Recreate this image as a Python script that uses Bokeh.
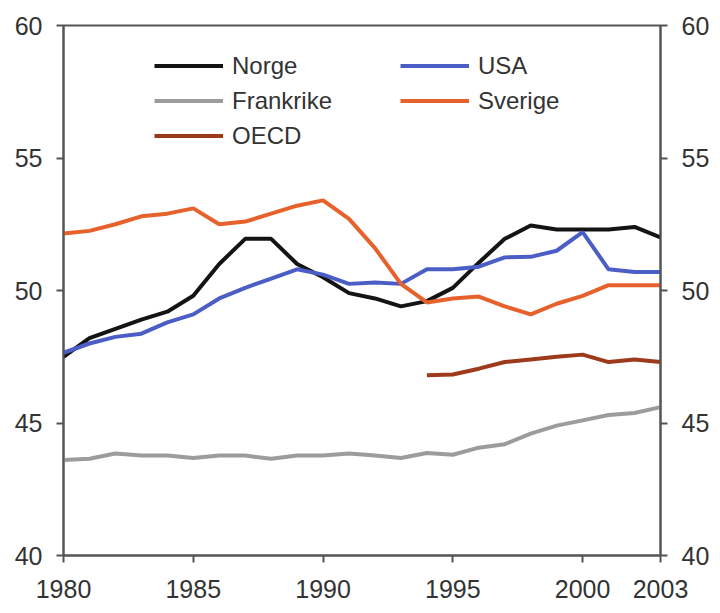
from bokeh.plotting import figure
from bokeh.models import Range1d, LinearAxis, FixedTicker, Legend, LegendItem
from bokeh.embed import file_html
from bokeh.resources import INLINE

years = list(range(1980, 2004))
norge = [47.5, 48.2, 48.55, 48.9, 49.2, 49.8, 51.0, 51.95, 51.95, 51.0, 50.5, 49.9,
         49.7, 49.4, 49.6, 50.1, 51.05, 51.95, 52.45, 52.3, 52.3, 52.3, 52.4, 52.0]
usa = [47.65, 48.0, 48.25, 48.37, 48.8, 49.1, 49.7, 50.1, 50.45, 50.8, 50.6, 50.25,
       50.3, 50.25, 50.8, 50.8, 50.9, 51.25, 51.27, 51.5, 52.2, 50.8, 50.7, 50.7]
frankrike = [43.6, 43.65, 43.85, 43.77, 43.77, 43.68, 43.77, 43.77, 43.65, 43.77, 43.77, 43.85,
             43.77, 43.68, 43.87, 43.8, 44.07, 44.2, 44.6, 44.9, 45.1, 45.3, 45.38, 45.6]
sverige = [52.15, 52.25, 52.5, 52.8, 52.9, 53.1, 52.5, 52.6, 52.9, 53.2, 53.4, 52.7,
           51.6, 50.25, 49.55, 49.7, 49.77, 49.4, 49.1, 49.5, 49.8, 50.2, 50.2, 50.2]
oecd_years = list(range(1994, 2004))
oecd = [46.8, 46.83, 47.05, 47.3, 47.4, 47.5, 47.58, 47.3, 47.4, 47.3]

x_ticks = [1980, 1985, 1990, 1995, 2000, 2003]
y_ticks = [40, 45, 50, 55, 60]

p = figure(width=712, height=605, output_backend="svg", toolbar_location=None,
           x_range=Range1d(1980, 2003), y_range=Range1d(40, 60),
           min_border_left=63, min_border_right=49, min_border_top=25, min_border_bottom=50)
p.xgrid.visible = False
p.ygrid.visible = False
p.outline_line_color = "#555555"
p.outline_line_width = 2
p.background_fill_color = "white"
p.border_fill_color = "white"

FONT = "Liberation Sans"
AX_COL = "#555555"
LBL_COL = "#333333"

def style_axis(ax, standoff):
    ax.axis_line_color = AX_COL
    ax.axis_line_width = 2
    ax.major_tick_line_color = AX_COL
    ax.major_tick_line_width = 2
    ax.major_tick_out = 7
    ax.major_tick_in = 0
    ax.minor_tick_line_color = None
    ax.major_label_text_font = FONT
    ax.major_label_text_font_size = "25px"
    ax.major_label_text_color = LBL_COL
    ax.major_label_standoff = standoff

xa = p.xaxis[0]
xa.ticker = FixedTicker(ticks=x_ticks)
style_axis(xa, 17)
ya = p.yaxis[0]
ya.ticker = FixedTicker(ticks=y_ticks)
style_axis(ya, 14)
ra = LinearAxis(ticker=FixedTicker(ticks=y_ticks))
style_axis(ra, 14)
p.add_layout(ra, "right")

lw = 4
r_norge = p.line(years, norge, line_color="#141414", line_width=lw)
r_usa = p.line(years, usa, line_color="#4a5ec6", line_width=lw)
r_fr = p.line(years, frankrike, line_color="#9c9c9c", line_width=lw)
r_sv = p.line(years, sverige, line_color="#e6612b", line_width=lw)
r_oecd = p.line(oecd_years, oecd, line_color="#9e3a1c", line_width=lw)

def make_legend(items, loc):
    lg = Legend(items=items, location=loc, orientation="vertical",
                padding=0, margin=0, spacing=0,
                glyph_width=69, glyph_height=35, label_height=35,
                label_standoff=9,
                label_text_font=FONT, label_text_font_size="24px",
                label_text_color=LBL_COL,
                border_line_color=None, background_fill_alpha=0)
    return lg

leg1 = make_legend([LegendItem(label="Norge", renderers=[r_norge]),
                    LegendItem(label="Frankrike", renderers=[r_fr]),
                    LegendItem(label="OECD", renderers=[r_oecd])], (91, 402))
leg2 = make_legend([LegendItem(label="USA", renderers=[r_usa]),
                    LegendItem(label="Sverige", renderers=[r_sv])], (337, 437))
p.add_layout(leg1, "center")
p.add_layout(leg2, "center")

open("out.html", "w").write(file_html(p, INLINE))
